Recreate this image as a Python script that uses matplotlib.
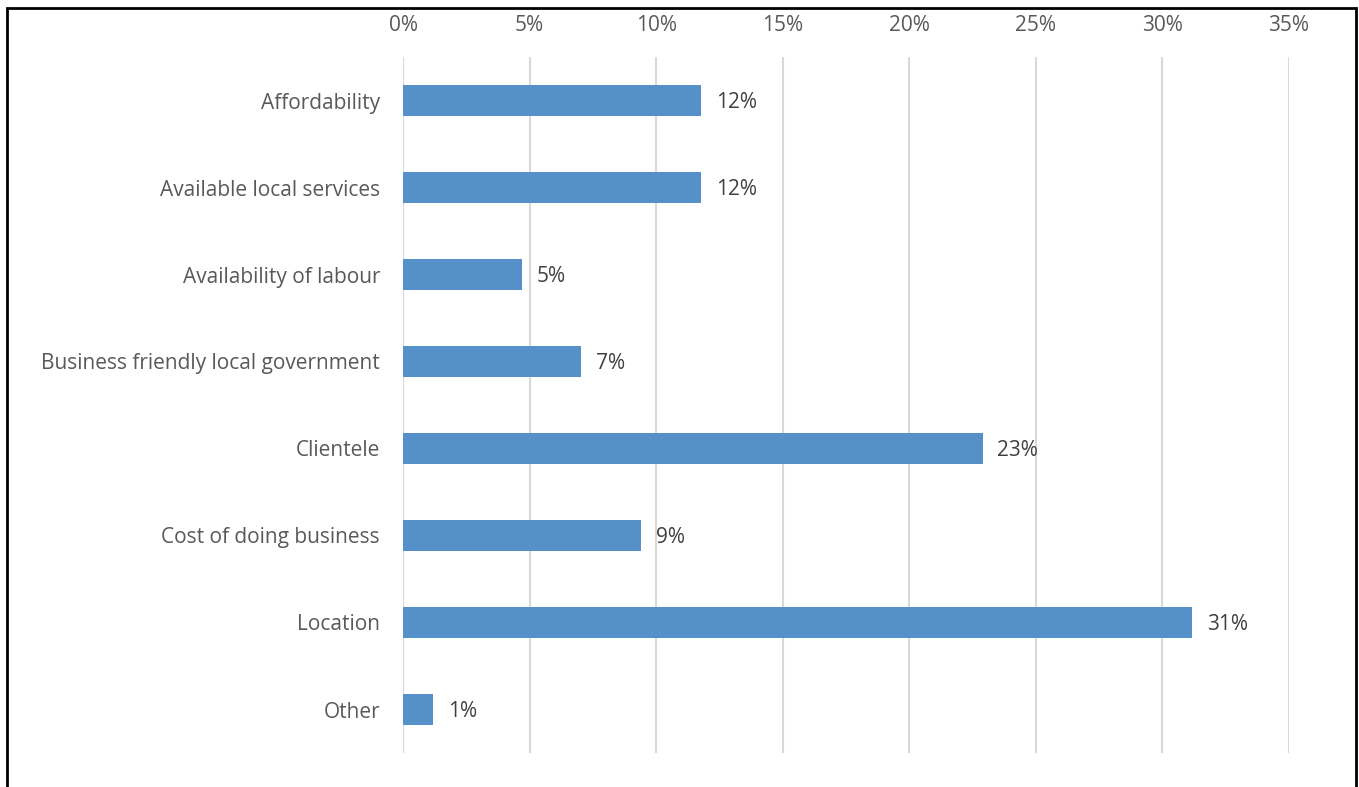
import matplotlib.pyplot as plt
from matplotlib.patches import Rectangle
from matplotlib.ticker import FuncFormatter

categories = ['Affordability', 'Available local services', 'Availability of labour',
              'Business friendly local government', 'Clientele', 'Cost of doing business',
              'Location', 'Other']
shares = [11.77, 11.77, 4.70, 7.03, 22.9, 9.40, 31.17, 1.19]   # percent
share_labels = ['12%', '12%', '5%', '7%', '23%', '9%', '31%', '1%']
xticks = [0, 5, 10, 15, 20, 25, 30, 35]

plt.rcParams['font.family'] = ['Open Sans', 'DejaVu Sans']
fs = 15

fig = plt.figure(figsize=(13.59, 7.87), dpi=100)
ax = fig.add_axes([403/1359, 1-753/787, 886/1359, 696/787])

ypos = list(range(len(categories)))
ax.barh(ypos, shares, height=0.36, color='#5591c8', zorder=3)
for y, v, lab in zip(ypos, shares, share_labels):
    ax.text(v + 0.58, y + 0.02, lab, va='center', ha='left', fontsize=fs, color='#404040')

ax.set_xlim(0, 35)
ax.set_ylim(len(categories) - 0.5, -0.5)
ax.set_xticks(xticks)
ax.xaxis.set_major_formatter(FuncFormatter(lambda x, p: f'{x:.0f}%'))
ax.xaxis.tick_top()
ax.set_yticks(ypos)
ax.set_yticklabels(categories)
ax.tick_params(axis='both', length=0, labelsize=fs, labelcolor='#595959')
ax.tick_params(axis='x', pad=15)
ax.tick_params(axis='y', pad=16.5)
ax.grid(axis='x', color='#d9d9d9', linewidth=1.5, zorder=0)
for s in ax.spines.values():
    s.set_visible(False)

# outer frame (bottom edge falls outside the picture)
fig.patches.append(Rectangle((7/1359, -0.05), 1349/1359, 1.05 - 8/787,
                             transform=fig.transFigure, fill=False,
                             edgecolor='black', linewidth=2))

fig.savefig('out.png', dpi=100)
